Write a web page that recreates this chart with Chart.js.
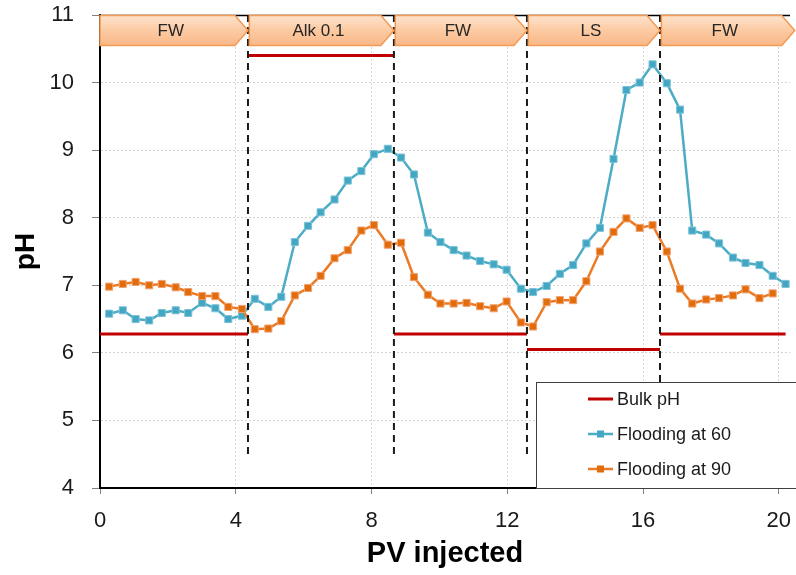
<!DOCTYPE html>
<html>
<head>
<meta charset="utf-8">
<title>pH vs PV injected</title>
<script src="https://cdn.jsdelivr.net/npm/chart.js@4.4.1/dist/chart.umd.min.js"></script>
<style>
  html, body { margin: 0; padding: 0; background: #ffffff; }
  #wrap { width: 796px; height: 575px; }
</style>
</head>
<body>
<div id="wrap"><canvas id="c" width="796" height="575"></canvas></div>
<script>
// Pore volumes injected at each effluent sample
const pvInjected = [
  0.27, 0.67, 1.05, 1.45, 1.82, 2.23, 2.60, 3.01, 3.40, 3.78,
  4.18, 4.56, 4.96, 5.34, 5.74, 6.13, 6.50, 6.91, 7.30, 7.70,
  8.07, 8.48, 8.87, 9.25, 9.66, 10.03, 10.42, 10.80, 11.20, 11.60,
  11.98, 12.40, 12.76, 13.16, 13.55, 13.94, 14.33, 14.73, 15.13, 15.51,
  15.90, 16.28, 16.70, 17.09, 17.45, 17.86, 18.24, 18.65, 19.02, 19.43,
  19.82, 20.20
];

// Effluent pH, flooding at 60
const phFlooding60 = [
  6.58, 6.63, 6.50, 6.48, 6.59, 6.63, 6.59, 6.74, 6.66, 6.50,
  6.55, 6.80, 6.68, 6.83, 7.64, 7.88, 8.08, 8.27, 8.55, 8.69,
  8.94, 9.02, 8.89, 8.64, 7.78, 7.64, 7.52, 7.44, 7.36, 7.31,
  7.23, 6.95, 6.90, 6.99, 7.17, 7.30, 7.62, 7.85, 8.87, 9.89,
  10.00, 10.27, 9.99, 9.60, 7.81, 7.75, 7.62, 7.41, 7.33, 7.30,
  7.14, 7.02
];

// Effluent pH, flooding at 90
const phFlooding90 = [
  6.98, 7.02, 7.05, 7.00, 7.02, 6.97, 6.90, 6.84, 6.84, 6.68,
  6.65, 6.35, 6.36, 6.47, 6.85, 6.96, 7.14, 7.40, 7.52, 7.81,
  7.89, 7.60, 7.63, 7.12, 6.86, 6.73, 6.73, 6.74, 6.69, 6.66,
  6.76, 6.45, 6.39, 6.75, 6.78, 6.78, 7.06, 7.50, 7.79, 7.99,
  7.85, 7.89, 7.50, 6.95, 6.73, 6.79, 6.81, 6.85, 6.94, 6.81,
  6.88
];

// Bulk pH of each injected brine (step edges in PV)
const bulkStepPV = [0, 4.36, 8.66, 12.58, 16.5, 20.2];
const bulkPH = [6.28, 10.4, 6.28, 6.05, 6.28];

// Injection stages shown as arrows along the top
const stageLabels = ['FW', 'Alk 0.1', 'FW', 'LS', 'FW'];
const stageStart = [0, 4.40, 8.70, 12.62, 16.54];
const stageEnd = [4.36, 8.66, 12.58, 16.50, 20.47];

// Brine switch markers
const switchPV = [4.36, 8.66, 12.58, 16.5];
const switchTopPH = 11;
const switchBottomPH = 4.5;

// Axis ticks
const xTicks = [0, 4, 8, 12, 16, 20];
const yTicks = [4, 5, 6, 7, 8, 9, 10, 11];

const NARROW = "'Liberation Sans Narrow', 'Liberation Sans', Arial, sans-serif";
const SANS = "'Liberation Sans', Arial, sans-serif";

const series60 = pvInjected.map((x, i) => ({ x: x, y: phFlooding60[i] }));
const series90 = phFlooding90.map((y, i) => ({ x: pvInjected[i], y: y }));

const bulkLine = [];
for (let i = 0; i < bulkPH.length; i++) {
  bulkLine.push({ x: bulkStepPV[i], y: bulkPH[i] });
  bulkLine.push({ x: bulkStepPV[i + 1], y: bulkPH[i] });
  bulkLine.push({ x: bulkStepPV[i + 1], y: null });
}

const switchLines = [];
switchPV.forEach(x => {
  switchLines.push({ x: x, y: switchTopPH });
  switchLines.push({ x: x, y: switchBottomPH });
  switchLines.push({ x: x, y: null });
});

// Top frame line and stage arrows
const stageArrows = {
  id: 'stageArrows',
  afterDatasetsDraw(chart) {
    const { ctx, chartArea, scales } = chart;
    const xs = scales.x;
    ctx.save();
    ctx.strokeStyle = '#000';
    ctx.lineWidth = 1.5;
    ctx.beginPath();
    ctx.moveTo(chartArea.left, chartArea.top + 0.5);
    ctx.lineTo(chartArea.right, chartArea.top + 0.5);
    ctx.stroke();

    const top = chartArea.top + 0.5;
    const bottom = top + 30;
    const mid = (top + bottom) / 2;
    const depth = 13;
    const grad = ctx.createLinearGradient(0, top, 0, bottom);
    grad.addColorStop(0, '#fde3cc');
    grad.addColorStop(0.5, '#fccaa2');
    grad.addColorStop(1, '#f9b888');
    stageLabels.forEach((label, i) => {
      const x0 = xs.getPixelForValue(stageStart[i]);
      const x1 = xs.getPixelForValue(stageEnd[i]);
      ctx.beginPath();
      ctx.moveTo(x0, top);
      ctx.lineTo(x1 - depth, top);
      ctx.lineTo(x1, mid);
      ctx.lineTo(x1 - depth, bottom);
      ctx.lineTo(x0, bottom);
      ctx.closePath();
      ctx.fillStyle = grad;
      ctx.fill();
      ctx.strokeStyle = '#f39a55';
      ctx.lineWidth = 1.5;
      ctx.stroke();
      ctx.fillStyle = '#262626';
      ctx.font = "17px " + NARROW;
      ctx.textAlign = 'center';
      ctx.textBaseline = 'middle';
      ctx.fillText(label, (x0 + x1 - depth / 2) / 2, mid + 1);
    });
    ctx.restore();
  }
};

// Boxed legend inside the plot
const boxLegend = {
  id: 'boxLegend',
  afterDraw(chart) {
    const { ctx } = chart;
    const box = { left: 536, top: 382, right: 800, bottom: 488 };
    ctx.save();
    ctx.fillStyle = '#ffffff';
    ctx.fillRect(box.left, box.top, box.right - box.left, box.bottom - box.top);
    ctx.strokeStyle = '#404040';
    ctx.lineWidth = 1;
    ctx.strokeRect(box.left + 0.5, box.top + 0.5, box.right - box.left, box.bottom - box.top);
    const rows = [399, 434, 469];
    const entries = chart.data.datasets.filter(d => d.inLegend);
    entries.forEach((d, i) => {
      const y = rows[i];
      ctx.strokeStyle = d.borderColor;
      ctx.lineWidth = d.borderWidth;
      ctx.beginPath();
      ctx.moveTo(588, y);
      ctx.lineTo(613, y);
      ctx.stroke();
      if (d.pointRadius > 0) {
        ctx.fillStyle = d.pointBackgroundColor;
        ctx.fillRect(597, y - 3.5, 7, 7);
      }
      ctx.fillStyle = '#1a1a1a';
      ctx.font = "18px " + SANS;
      ctx.textAlign = 'left';
      ctx.textBaseline = 'middle';
      ctx.fillText(d.label, 617, y + 1);
    });
    ctx.restore();
  }
};

new Chart(document.getElementById('c'), {
  type: 'line',
  data: {
    datasets: [
      {
        label: 'Bulk pH',
        inLegend: true,
        data: bulkLine,
        borderColor: '#c00000',
        borderWidth: 3,
        pointRadius: 0,
        spanGaps: false,
        order: 3
      },
      {
        label: 'Flooding at 60',
        inLegend: true,
        data: series60,
        borderColor: '#4bacc6',
        borderWidth: 2.5,
        pointStyle: 'rect',
        pointRadius: 5,
        pointBackgroundColor: '#43a6c2',
        pointBorderColor: '#7cc3d8',
        pointBorderWidth: 1,
        order: 2
      },
      {
        label: 'Flooding at 90',
        inLegend: true,
        data: series90,
        borderColor: '#ec7a24',
        borderWidth: 2.5,
        pointStyle: 'rect',
        pointRadius: 5,
        pointBackgroundColor: '#e36c0a',
        pointBorderColor: '#f0a070',
        pointBorderWidth: 1,
        order: 1
      },
      {
        label: 'switch',
        inLegend: false,
        data: switchLines,
        borderColor: '#1a1a1a',
        borderWidth: 2,
        borderDash: [7, 5],
        pointRadius: 0,
        spanGaps: false,
        order: 0
      }
    ]
  },
  options: {
    responsive: false,
    animation: false,
    events: [],
    layout: { padding: { top: 15, right: 2, left: 0, bottom: 0 } },
    plugins: {
      legend: { display: false },
      tooltip: { enabled: false }
    },
    scales: {
      x: {
        type: 'linear',
        min: 0,
        max: 20.33,
        afterBuildTicks: s => { s.ticks = xTicks.map(v => ({ value: v })); },
        afterFit: s => { s.height = 87; s.paddingLeft = 0; s.paddingRight = 0; },
        grid: { color: '#d4d4d4', lineWidth: 1, tickLength: 6, tickColor: '#808080', tickWidth: 1 },
        border: { color: '#000', width: 2, dash: [2, 2] },
        ticks: { padding: 14, maxRotation: 0, color: '#1a1a1a', font: { family: NARROW, size: 22 } },
        title: {
          display: true, text: 'PV injected', color: '#000',
          font: { family: SANS, size: 29, weight: 'bold' },
          padding: { top: 0, bottom: 4 }
        }
      },
      y: {
        type: 'linear',
        min: 4,
        max: 11,
        afterBuildTicks: s => { s.ticks = yTicks.map(v => ({ value: v })); },
        afterFit: s => { s.width = 100; s.paddingTop = 0; s.paddingBottom = 0; },
        grid: { color: '#d4d4d4', lineWidth: 1, tickLength: 8, tickColor: '#808080', tickWidth: 1 },
        border: { color: '#000', width: 2, dash: [2, 2] },
        ticks: { padding: 18, color: '#1a1a1a', font: { family: NARROW, size: 22 } },
        title: {
          display: true, text: 'pH', color: '#000',
          font: { family: SANS, size: 28, weight: 'bold' },
          padding: { top: 9, bottom: 0 }
        }
      }
    }
  },
  plugins: [stageArrows, boxLegend]
});
</script>
</body>
</html>
